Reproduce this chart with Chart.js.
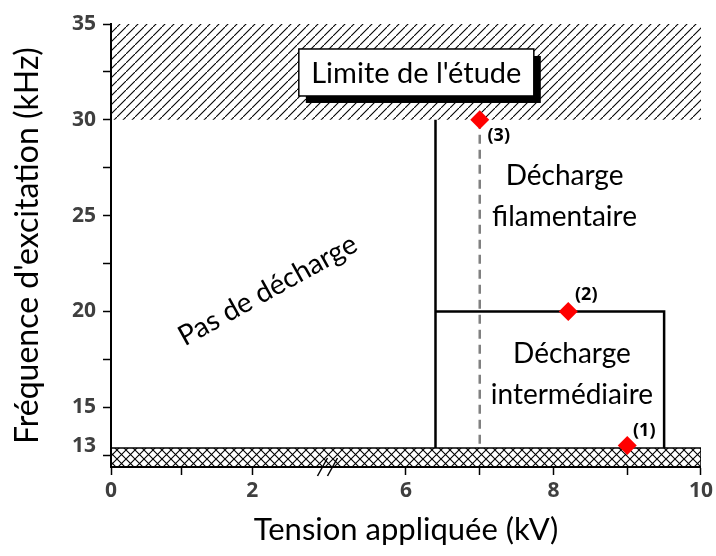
<!DOCTYPE html>
<html>
<head>
<meta charset="utf-8">
<script src="https://cdn.jsdelivr.net/npm/chart.js@4.4.0/dist/chart.umd.min.js"></script>
<style>
  html, body { margin: 0; padding: 0; background: #fff; }
  #wrap { width: 716px; height: 556px; }
</style>
</head>
<body>
<div id="wrap"><canvas id="regimeChart"></canvas></div>
<script>
// measured operating points: applied voltage (kV) / excitation frequency (kHz)
var pointKV = [9, 8.2, 7];
var pointKHz = [13, 20, 30];
var pointNames = ['(1)', '(2)', '(3)'];

// regime boundaries
var filamentEdgeKV = [6.4, 6.4];
var filamentEdgeKHz = [30, 12.87];
var intermEdgeKV = [6.4, 9.5, 9.5];
var intermEdgeKHz = [20, 20, 12.87];
var dashKV = [7, 7];
var dashKHz = [30, 12.87];

// limit of the study (top) and frequency floor (bottom band)
var limitKV = [0, 10];
var limitKHz = [35, 35];
var limitFloor = 30;
var floorKV = [0, 10, 10];
var floorKHz = [12.87, 12.87, 11.88];

// axis ticks
var xTickKV = [0, 1, 2, 6, 7, 8, 9, 10];
var xTickLabels = [0, 2, 6, 8, 10];
var yTicks = [12.5, 13, 15, 17.5, 20, 22.5, 25, 27.5, 30, 32.5, 35];
var yTickLabels = [13, 15, 20, 25, 30, 35];

// broken x axis: 0..3 kV then 5..10 kV
function kvToAxis(v) { return v <= 4 ? v * 0.957 : v - 2; }
function axisToKv(u) { return u <= 3 ? u / 0.957 : u + 2; }

function pts(xs, ys) {
  return xs.map(function (x, i) { return { x: kvToAxis(x), y: ys[i] }; });
}

function makePattern(cross) {
  var c = document.createElement('canvas');
  c.width = 9; c.height = 9;
  var g = c.getContext('2d');
  g.strokeStyle = '#000';
  g.lineWidth = 1.1;
  g.beginPath();
  g.moveTo(-1, 10); g.lineTo(10, -1);
  if (cross) { g.moveTo(-1, -1); g.lineTo(10, 10); }
  g.stroke();
  return g.createPattern(c, 'repeat');
}

var textFont = '28px Lato';
var regionLabels = [
  { text: 'Décharge', kv: 8.15, khz: 27.07 },
  { text: 'filamentaire', kv: 8.15, khz: 24.95 },
  { text: 'Décharge', kv: 8.25, khz: 17.77 },
  { text: 'intermédiaire', kv: 8.25, khz: 15.63 }
];

var annotations = {
  id: 'annotations',
  afterDatasetsDraw: function (chart) {
    var ctx = chart.ctx, xs = chart.scales.x, ys = chart.scales.y;
    var px = function (kv) { return xs.getPixelForValue(kvToAxis(kv)); };
    var py = function (f) { return ys.getPixelForValue(f); };
    ctx.save();

    // axis break marks
    var bx = (xs.getPixelForValue(kvToAxis(3)) + xs.getPixelForValue(kvToAxis(5))) / 2;
    var by = ys.bottom;
    ctx.strokeStyle = '#000';
    ctx.lineWidth = 1.5;
    [-5, 5].forEach(function (d) {
      ctx.beginPath();
      ctx.moveTo(bx + d - 5, by + 9);
      ctx.lineTo(bx + d + 5, by - 9);
      ctx.stroke();
    });

    // region texts
    ctx.fillStyle = '#000';
    ctx.font = textFont;
    ctx.textAlign = 'center';
    ctx.textBaseline = 'middle';
    regionLabels.forEach(function (l) {
      ctx.fillText(l.text, px(l.kv), py(l.khz));
    });

    ctx.save();
    ctx.translate(px(2.22), py(21.1));
    ctx.rotate(-29 * Math.PI / 180);
    ctx.fillText('Pas de décharge', 0, 0);
    ctx.restore();

    // study limit box with shadow
    var cx = px(6.14), cy = py(32.47), w = 235, h = 47;
    ctx.fillStyle = '#000';
    ctx.fillRect(cx - w / 2 + 7, cy - h / 2 + 7, w, h);
    ctx.fillStyle = '#fff';
    ctx.fillRect(cx - w / 2, cy - h / 2, w, h);
    ctx.lineWidth = 1.5;
    ctx.strokeRect(cx - w / 2, cy - h / 2, w, h);
    ctx.fillStyle = '#000';
    ctx.font = '29px Lato';
    ctx.fillText("Limite de l'étude", cx, cy + 1);

    // point names
    ctx.font = 'bold 18px "Open Sans"';
    var offs = [[17, -15], [18, -17], [19, 16]];
    pointNames.forEach(function (n, i) {
      ctx.fillText(n, px(pointKV[i]) + offs[i][0], py(pointKHz[i]) + offs[i][1]);
    });
    ctx.restore();
  }
};

new Chart(document.getElementById('regimeChart'), {
  type: 'line',
  data: {
    datasets: [
      {
        data: pts(limitKV, limitKHz),
        fill: { value: limitFloor },
        backgroundColor: makePattern(false),
        borderWidth: 0, pointRadius: 0, order: 10
      },
      {
        data: pts(floorKV, floorKHz),
        fill: 'start',
        backgroundColor: makePattern(true),
        borderColor: '#000', borderWidth: 1.5, pointRadius: 0, order: 9
      },
      {
        data: pts(dashKV, dashKHz),
        borderColor: '#808080', borderWidth: 2.5, borderDash: [9, 6],
        pointRadius: 0, fill: false, order: 5
      },
      {
        data: pts(filamentEdgeKV, filamentEdgeKHz),
        borderColor: '#000', borderWidth: 2.5, pointRadius: 0, fill: false, order: 4
      },
      {
        data: pts(intermEdgeKV, intermEdgeKHz),
        borderColor: '#000', borderWidth: 2.5, pointRadius: 0, fill: false, order: 4
      },
      {
        data: pts(pointKV, pointKHz),
        showLine: false,
        pointStyle: 'rectRot', pointRadius: 9.5,
        pointBackgroundColor: '#ff0000', pointBorderWidth: 0,
        order: 0
      }
    ]
  },
  options: {
    responsive: true,
    maintainAspectRatio: false,
    animation: false,
    layout: { padding: { top: 24, right: 6, left: 0, bottom: 0 } },
    plugins: { legend: { display: false }, tooltip: { enabled: false } },
    scales: {
      x: {
        type: 'linear',
        min: 0, max: 8,
        afterFit: function (s) { s.height = 89; },
        afterBuildTicks: function (s) {
          s.ticks = xTickKV.map(function (v) { return { value: kvToAxis(v) }; });
        },
        ticks: {
          autoSkip: false, maxRotation: 0, padding: 3,
          color: '#3f3f3f', font: { family: 'Open Sans', weight: 'bold', size: 21 },
          callback: function (value) {
            var kv = Math.round(axisToKv(value));
            return xTickLabels.indexOf(kv) >= 0 ? String(kv) : '';
          }
        },
        grid: { drawOnChartArea: false, tickLength: 8, tickWidth: 1.5, tickColor: '#000' },
        border: { color: '#000', width: 2 },
        title: {
          display: true, text: 'Tension appliquée (kV)', color: '#000',
          font: { family: 'Lato', size: 31 }, padding: { top: 0, bottom: 7 }
        }
      },
      y: {
        min: 11.88, max: 35,
        afterFit: function (s) { s.width = 111; },
        afterBuildTicks: function (s) {
          s.ticks = yTicks.map(function (v) { return { value: v }; });
        },
        ticks: {
          autoSkip: false, padding: 7,
          color: '#3f3f3f', font: { family: 'Open Sans', weight: 'bold', size: 21 },
          callback: function (value) {
            return yTickLabels.indexOf(value) >= 0 ? String(value) : '';
          }
        },
        grid: {
          drawOnChartArea: false, tickLength: 8, tickWidth: 1.5,
          tickColor: function (c) { return c.tick && c.tick.value === 13 ? 'rgba(0,0,0,0)' : '#000'; }
        },
        border: { color: '#000', width: 2 },
        title: {
          display: true, text: "Fréquence d'excitation (kHz)", color: '#000',
          font: { family: 'Lato', size: 32 }, padding: { top: 8, bottom: 0 }
        }
      }
    }
  },
  plugins: [annotations]
});
</script>
</body>
</html>
